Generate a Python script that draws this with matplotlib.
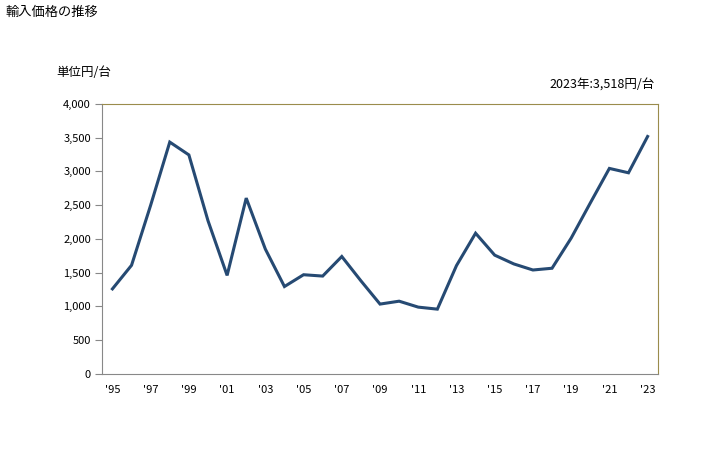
import matplotlib
matplotlib.use("Agg")
import matplotlib.pyplot as plt

plt.rcParams["font.family"] = ["Noto Sans CJK JP", "DejaVu Sans"]

years = list(range(1995, 2024))
prices = [1260, 1610, 2500, 3435, 3245, 2270, 1460, 2605, 1850, 1295,
          1470, 1450, 1740, 1380, 1035, 1078, 990, 960, 1605, 2085,
          1760, 1630, 1540, 1566, 2012, 2532, 3045, 2980, 3518]
tick_years = list(range(1995, 2024, 2))
tick_labels = ["'" + str(y)[2:] for y in tick_years]

fig = plt.figure(figsize=(7.28, 4.5), dpi=100)
ax = fig.add_axes([0.140, 0.169, 0.764, 0.600])

ax.plot(years, prices, color="#264a73", linewidth=2.2, solid_joinstyle="miter")

ax.set_xlim(1994.45, 2023.55)
ax.set_ylim(0, 4000)
ax.set_yticks(range(0, 4001, 500))
ax.set_yticklabels([f"{v:,}" for v in range(0, 4001, 500)], fontsize=8)
ax.set_xticks(tick_years)
ax.set_xticklabels(tick_labels, fontsize=8)
ax.tick_params(axis="y", length=5, color="#888888", pad=3)
ax.tick_params(axis="x", length=0, pad=8)

for side in ("left", "bottom"):
    ax.spines[side].set_color("#888888")
for side in ("top", "right"):
    ax.spines[side].set_color("#9a8c4c")

fig.text(0.007, 0.973, "輸入価格の推移", fontsize=9.5, va="center", ha="left")
fig.text(0.078, 0.838, "単位円/台", fontsize=9, va="center", ha="left")
fig.text(0.900, 0.811, "2023年:3,518円/台", fontsize=9, va="center", ha="right")

fig.savefig("out.png", dpi=100)
